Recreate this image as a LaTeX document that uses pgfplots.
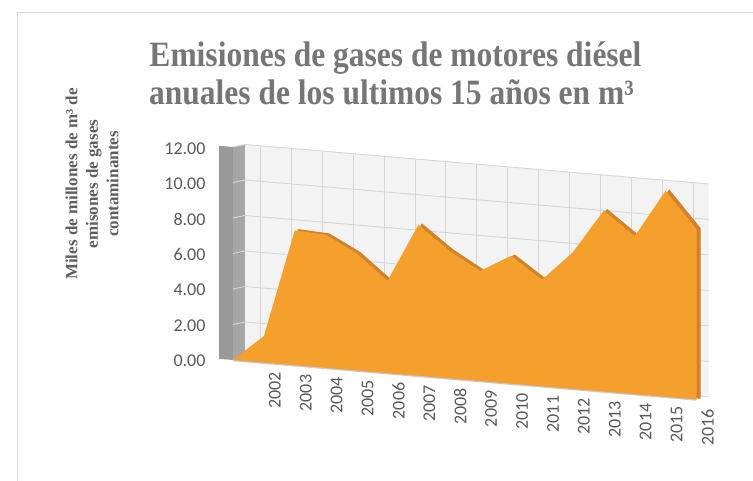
\documentclass[border=0pt]{standalone}
\usepackage{pgfplots}
\pgfplotsset{compat=1.18}
\usepackage{pgfplotstable}
\usepackage{graphicx}
\usepackage{fontspec}
\setmainfont{Liberation Serif}
\newfontfamily\calibri{Carlito}
\usetikzlibrary{calc}
\definecolor{areaor}{HTML}{F5A02D}
\definecolor{areatop}{HTML}{D2822A}
\definecolor{wallside}{HTML}{A6A6A6}
\definecolor{wallback}{HTML}{F3F3F3}
\definecolor{gridc}{HTML}{D6D6D6}
\definecolor{titlec}{HTML}{767676}
\definecolor{ylabc}{HTML}{5E5E5E}
\definecolor{tickc}{HTML}{595959}
\definecolor{framec}{HTML}{D9D9D9}
\definecolor{floorc}{HTML}{C8C8C8}

\pgfplotstableread{
x v
0 0
1 1.5
2 7.6
3 7.5
4 6.6
5 5.2
6 8.5
7 7.2
8 6.2
9 7.2
10 6.0
11 7.7
12 10.2
13 8.9
14 11.6
15 9.6
15 0
}\emis

\begin{document}
\begin{tikzpicture}
\begin{axis}[
  set layers,
  x={(30.9pt,-2.63pt)}, y={(12pt,2.5pt)}, z={(0pt,17.75pt)},
  xmin=0, xmax=15, ymin=0, ymax=1, zmin=0, zmax=12,
  clip=false,
  axis line style={draw=none},
  xtick={1,...,15},
  xticklabels={2002,2003,2004,2005,2006,2007,2008,2009,2010,2011,2012,2013,2014,2015,2016},
  ytick=\empty,
  ztick={0,2,...,12},
  minor xtick={0.5,1.5,...,14.5},
  xmajorgrids=false, xminorgrids=true, zmajorgrids=true,
  minor grid style={draw=gridc, line width=0.9pt},
  major grid style={draw=gridc, line width=0.9pt},
  tick style={draw=none},
  /pgf/number format/assume math mode=true,
  x tick label style={rotate=90, anchor=east, font={\calibri\fontsize{18}{18}\selectfont}, text=tickc, yshift=-11pt, xshift=-6pt},
  z tick label style={font={\calibri\fontsize{18}{18}\selectfont}, text=tickc, xshift=-24pt},
  zticklabel style={/pgf/number format/.cd, fixed, fixed zerofill, precision=2},
]
\addplot3[on layer=axis background, fill=wallback, draw=none, forget plot]
  coordinates {(0,1,0) (15,1,0) (15,1,12) (0,1,12)};
\addplot3[on layer=axis background, fill=wallside, draw=none, forget plot]
  coordinates {(0,0,0) (0,1,0) (0,1,12) (0,0,12)};
\addplot3[on layer=axis background, fill=wallside!92!black, draw=none, forget plot]
  coordinates {(-0.45,0,0) (0,0,0) (0,0,12) (-0.45,0,12)};
\addplot3[draw=floorc, line width=2.5pt, forget plot]
  coordinates {(0,0,0) (15,0,0)};
\addplot3[fill=areatop, draw=areatop, line width=1pt, forget plot]
  table[x=x, y expr=0.3, z=v] {\emis};
\addplot3[fill=areaor, draw=none]
  table[x=x, y expr=0, z=v] {\emis};
\coordinate (O) at (axis cs:0,0,0);
\end{axis}
\coordinate (TL) at ($(O)+(-233pt,360pt)$);
\draw[framec, line width=0.8pt] ($(TL)+(17pt,-481pt)$) -- ($(TL)+(17pt,-12pt)$) -- ($(TL)+(753pt,-12pt)$);
\node[anchor=base, text=titlec, font=\bfseries\fontsize{31.5}{38}\selectfont, inner sep=0pt]
  at ($(TL)+(395.5pt,-67pt)$) {\scalebox{1}[1.13]{Emisiones de gases de motores diésel}};
\node[anchor=base, text=titlec, font=\bfseries\fontsize{31.5}{38}\selectfont, inner sep=0pt]
  at ($(TL)+(391.5pt,-105pt)$) {\scalebox{1}[1.13]{anuales de los ultimos 15 años en m³}};
\node[rotate=90, align=center, text=ylabc, font=\bfseries\fontsize{17}{20.5}\selectfont, inner sep=0pt]
  at ($(TL)+(92pt,-184pt)$) {Miles de millones de m³ de\\ emisones de gases\\ contaminantes};
\pgfresetboundingbox
\path ($(TL)+(0pt,-481pt)$) rectangle ($(TL)+(753pt,0pt)$);
\end{tikzpicture}
\end{document}
